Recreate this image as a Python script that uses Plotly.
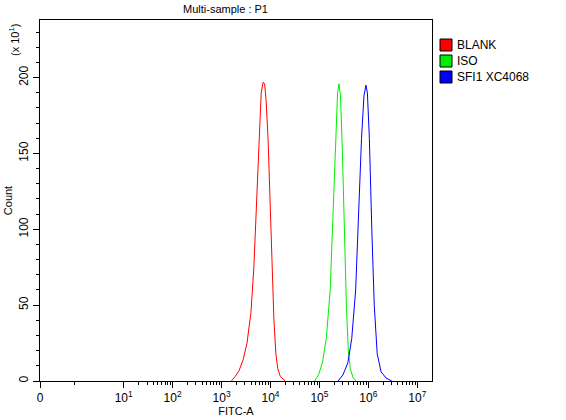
import math
import plotly.graph_objects as go

# x in decade units (log10 of FITC-A), counts in units of x10^1
blank_x = [3.20,3.28,3.36,3.44,3.52,3.60,3.66,3.72,3.77,3.81,3.85,3.88,3.91,3.95,3.99,4.03,4.07,4.11,4.15,4.20,4.26,4.30]
blank_y = [0,3,7,14,25,45,75,120,165,190,197,196,185,160,120,75,40,18,8,3,1,0]
iso_x = [4.90,4.98,5.06,5.14,5.22,5.28,5.33,5.37,5.40,5.43,5.47,5.51,5.55,5.59,5.63,5.69,5.75]
iso_y = [0,4,12,28,60,110,160,190,196,188,150,95,50,20,8,2,0]
sfi_x = [5.38,5.48,5.58,5.66,5.74,5.80,5.86,5.91,5.95,5.98,6.02,6.07,6.12,6.18,6.26,6.36,6.48]
sfi_y = [0,4,12,28,60,110,160,188,195,190,160,100,50,18,6,2,0]

names = ["BLANK", "ISO", "SFI1 XC4068"]
colors = ["#ff0000", "#00ee00", "#0000ff"]

major_vals = [-0.71, 1, 2, 3, 4, 5, 6, 7]
major_text = ["0", "10<sup>1</sup>", "10<sup>2</sup>", "10<sup>3</sup>", "10<sup>4</sup>",
              "10<sup>5</sup>", "10<sup>6</sup>", "10<sup>7</sup>"]
minor_mult = [2, 3, 4, 5, 6, 7, 8, 9]
minor_vals = [d + math.log10(m) for d in range(1, 7) for m in minor_mult] + [0.0]

W, H = 566, 420
L, R, T, B = 40, 134, 20, 39
pw, ph = W - L - R, H - T - B

def px(xp):
    return (xp - L) / pw
def py(yp):
    return (H - B - yp) / ph

fig = go.Figure()
for xs, ys, c in zip([blank_x, iso_x, sfi_x], [blank_y, iso_y, sfi_y], colors):
    fig.add_trace(go.Scatter(x=xs, y=ys, mode="lines", line=dict(color=c, width=1),
                             showlegend=False, hoverinfo="skip"))
fig.add_trace(go.Scatter(x=[None], y=[None], xaxis="x2", showlegend=False))

shapes, annots = [], []
for i, (n, c) in enumerate(zip(names, colors)):
    yc = 45 + 16 * i
    shapes.append(dict(type="rect", xref="paper", yref="paper",
                       x0=px(440), x1=px(452), y0=py(yc + 6), y1=py(yc - 6),
                       fillcolor=c, line=dict(color="black", width=1)))
    annots.append(dict(text=n, xref="paper", yref="paper", x=px(455), y=py(yc),
                       xanchor="left", yanchor="middle", showarrow=False,
                       font=dict(size=12)))
annots.append(dict(text="(x 10<sup>1</sup>)", textangle=-90, xref="paper", yref="paper",
                   x=px(14), y=py(22), xanchor="center", yanchor="top", showarrow=False,
                   font=dict(size=11)))
annots.append(dict(text="Multi-sample : P1", xref="paper", yref="paper", x=px(225), y=py(9),
                   xanchor="center", yanchor="middle", showarrow=False, font=dict(size=11)))

xr = [-0.71, 7.3]
fig.update_layout(
    width=W, height=H, plot_bgcolor="white", paper_bgcolor="white",
    margin=dict(l=L, r=R, t=T, b=B, autoexpand=False),
    font=dict(family="Liberation Sans, Arial", size=12, color="black"),
    showlegend=False,
    xaxis=dict(range=xr, tickvals=major_vals, ticktext=major_text, ticks="outside",
               ticklen=6, tickcolor="black", showgrid=False, zeroline=False,
               showline=True, linecolor="black", mirror=True, automargin=False,
               title=dict(text="FITC-A", standoff=0, font=dict(size=11))),
    xaxis2=dict(range=xr, overlaying="x", tickvals=minor_vals, ticks="outside",
                ticklen=3, tickcolor="black", showticklabels=False, showgrid=False,
                zeroline=False, anchor="y", side="bottom", automargin=False),
    yaxis=dict(range=[0, 238], tickvals=[0, 50, 100, 150, 200], ticks="outside",
               ticklen=6, tickcolor="black", tickangle=-90, showgrid=False,
               zeroline=False, showline=True, linecolor="black", mirror=True,
               automargin=False,
               minor=dict(dtick=10, ticks="outside", ticklen=3, tickcolor="black"),
               title=dict(text="Count", standoff=2, font=dict(size=11))),
    shapes=shapes, annotations=annots,
)
fig.write_html("out.html", config={"displayModeBar": False},
               post_script="document.body.style.margin='0';document.body.style.padding='0';")
